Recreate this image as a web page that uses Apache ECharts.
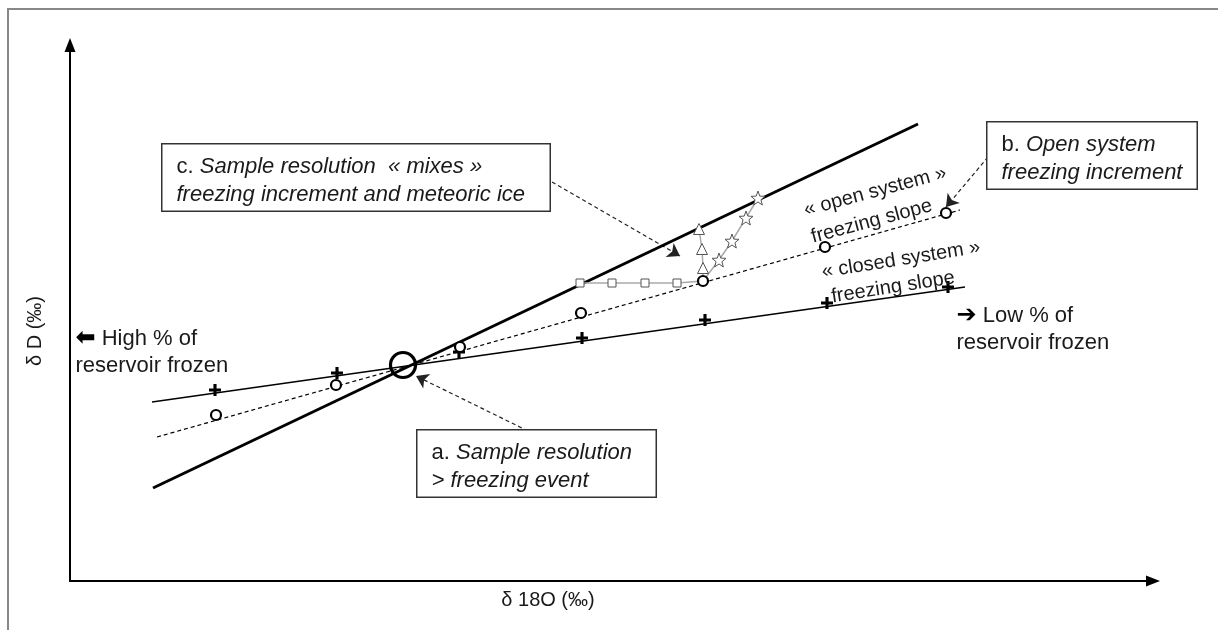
<!DOCTYPE html>
<html>
<head>
<meta charset="utf-8">
<style>
  html, body { margin: 0; padding: 0; background: #fff; }
  #chart { width: 1218px; height: 630px; }
</style>
<script src="https://cdn.jsdelivr.net/npm/echarts@6/dist/echarts.min.js"></script>
</head>
<body>
<div id="chart"></div>
<script>
// schematic: no scale on the axes, units are arbitrary
var meteoricLine = [[83, 93], [848, 457]];
var closedLine = [[82, 179], [895, 294]];
var openLine = [[87, 144], [890, 371]];

var closedPoints = [[145, 191], [267, 208], [389, 229], [512, 243], [635, 261], [757, 278], [878, 294]];
var openPoints = [[146, 166], [266, 196], [390, 234], [511, 268], [633, 300], [755, 334], [876, 368]];
var eventPoint = [[333, 216]];

// sample resolution mixing paths, all leaving from the same open system point
var junction = [633, 300];
var squarePoints = [[510, 298], [542, 298], [575, 298], [607, 298]];
var trianglePoints = [[633, 313], [632, 332], [629, 352]];
var starPoints = [[649, 321], [662, 340], [676, 363], [688, 383]];

// dashed pointers from the boxes: [from, to]
var pointers = [
  [[458, 150], [346, 205]],
  [[918, 424], [876, 374]],
  [[482, 399], [610, 325]]
];

var boxes = [
  { at: [93, 436], w: 359, text: '{n|c. }{i|Sample resolution  « mixes »}\n{i|freezing increment and meteoric ice}' },
  { at: [348, 150], w: 210, text: '{n|a. }{i|Sample resolution}\n{i|> freezing event}' },
  { at: [918, 458], w: 181, text: '{n|b. }{i|Open system}\n{i|freezing increment}' }
];
var sideNotes = [
  { at: [6, 255], text: '{a|⬅} High % of\nreservoir frozen' },
  { at: [887, 278], text: '{a|➔} Low % of\nreservoir frozen' }
];
var slopeNotes = [
  { at: [738, 357], rot: 15, lh: 28, text: '« open system »\nfreezing slope' },
  { at: [754, 296], rot: 9, lh: 26, text: '« closed system »\n freezing slope' }
];
var axisNames = [
  { at: [478, -19], rot: 0, text: 'δ 18O (‰)' },
  { at: [-35, 250], rot: 90, text: 'δ D (‰)' }
];

var FONT = 'Liberation Sans';
var INK = '#1a1a1a';
var PLUS = 'path://M4.25,0H7.25V4.25H11.5V7.25H7.25V11.5H4.25V7.25H0V4.25H4.25Z';
var STAR = 'path://M50,0L62.3,33L97.6,34.6L70,56.5L79.4,90.5L50,71L20.6,90.5L30,56.5L2.4,34.6L37.7,33Z';

var chart = echarts.init(document.getElementById('chart'), null, { renderer: 'canvas' });

function axis(max) {
  return {
    type: 'value', min: 0, max: max,
    axisLine: { show: true, symbol: ['none', 'triangle'], symbolSize: [11, 14], lineStyle: { color: '#000', width: 2 } },
    axisTick: { show: false }, axisLabel: { show: false }, splitLine: { show: false }
  };
}

function textSeries(items, labelFn) {
  return {
    type: 'scatter', silent: true, clip: false, z: 10,
    symbolSize: 1, itemStyle: { color: 'rgba(0,0,0,0)', opacity: 1 },
    data: items.map(function (d) { return { value: d.at, label: labelFn(d) }; })
  };
}

var mixLine = { color: '#aaa', width: 1.5 };
var mixItem = { color: '#fff', borderColor: '#555', borderWidth: 1, opacity: 1 };

var option = {
  animation: false,
  grid: { left: 70, right: 65, top: 45, bottom: 49 },
  xAxis: axis(1083),
  yAxis: axis(536),
  graphic: [{
    type: 'polyline', silent: true,
    shape: { points: [[8, 630], [8, 9], [1218, 9]] },
    style: { stroke: '#888', lineWidth: 2, fill: null }
  }],
  series: [
    { type: 'line', data: meteoricLine, symbol: 'none', lineStyle: { color: '#000', width: 3 } },
    { type: 'line', data: closedLine, symbol: 'none', lineStyle: { color: '#000', width: 1.4 } },
    { type: 'line', data: openLine, symbol: 'none', lineStyle: { color: '#000', width: 1.2, type: [4, 3] } },
    {
      type: 'lines', coordinateSystem: 'cartesian2d', z: 3,
      symbol: ['none', 'arrow'], symbolSize: 12,
      lineStyle: { color: '#222', width: 1.2, type: [4, 3], opacity: 1 },
      data: pointers.map(function (p) { return { coords: p }; })
    },
    {
      type: 'line', z: 4, data: squarePoints.concat([{ value: junction, symbol: 'none' }]),
      symbol: 'rect', symbolSize: 8, lineStyle: mixLine, itemStyle: mixItem
    },
    {
      type: 'line', z: 4, data: [{ value: junction, symbol: 'none' }].concat(trianglePoints),
      symbol: 'triangle', symbolSize: 11, lineStyle: mixLine, itemStyle: mixItem
    },
    {
      type: 'line', z: 4, data: [{ value: junction, symbol: 'none' }].concat(starPoints),
      symbol: STAR, symbolSize: 14, lineStyle: mixLine, itemStyle: mixItem
    },
    {
      type: 'scatter', z: 5, data: closedPoints, symbol: PLUS, symbolSize: 12,
      itemStyle: { color: '#000', opacity: 1 }
    },
    {
      type: 'scatter', z: 5, data: openPoints, symbol: 'circle', symbolSize: 10,
      itemStyle: { color: '#fff', borderColor: '#000', borderWidth: 2.2, opacity: 1 }
    },
    {
      type: 'scatter', z: 5, data: eventPoint, symbol: 'circle', symbolSize: 25,
      itemStyle: { color: 'rgba(0,0,0,0)', borderColor: '#000', borderWidth: 3.2, opacity: 1 }
    },
    textSeries(boxes, function (d) {
      return {
        show: true, position: [0, 0], align: 'left', verticalAlign: 'top',
        formatter: d.text, width: d.w, lineHeight: 28,
        padding: [8, 14, 2, 14], backgroundColor: '#fff', borderColor: '#333', borderWidth: 1.5,
        rich: {
          n: { fontFamily: FONT, fontSize: 22, color: INK, lineHeight: 28 },
          i: { fontFamily: FONT, fontSize: 22, fontStyle: 'italic', color: INK, lineHeight: 28 }
        }
      };
    }),
    textSeries(sideNotes, function (d) {
      return {
        show: true, position: [0, 0], align: 'left', verticalAlign: 'top',
        formatter: d.text, fontFamily: FONT, fontSize: 22, color: INK, lineHeight: 27,
        rich: { a: { fontFamily: 'DejaVu Sans', fontSize: 24, fontWeight: 'bold', color: '#000', lineHeight: 27 } }
      };
    }),
    textSeries(slopeNotes, function (d) {
      return {
        show: true, position: 'inside', align: 'left', verticalAlign: 'middle', rotate: d.rot,
        formatter: d.text, fontFamily: FONT, fontSize: 20, color: INK, lineHeight: d.lh
      };
    }),
    textSeries(axisNames, function (d) {
      return {
        show: true, position: 'inside', align: 'center', verticalAlign: 'middle', rotate: d.rot,
        formatter: d.text, fontFamily: FONT, fontSize: 20, color: INK
      };
    })
  ]
};

chart.setOption(option);
</script>
</body>
</html>
